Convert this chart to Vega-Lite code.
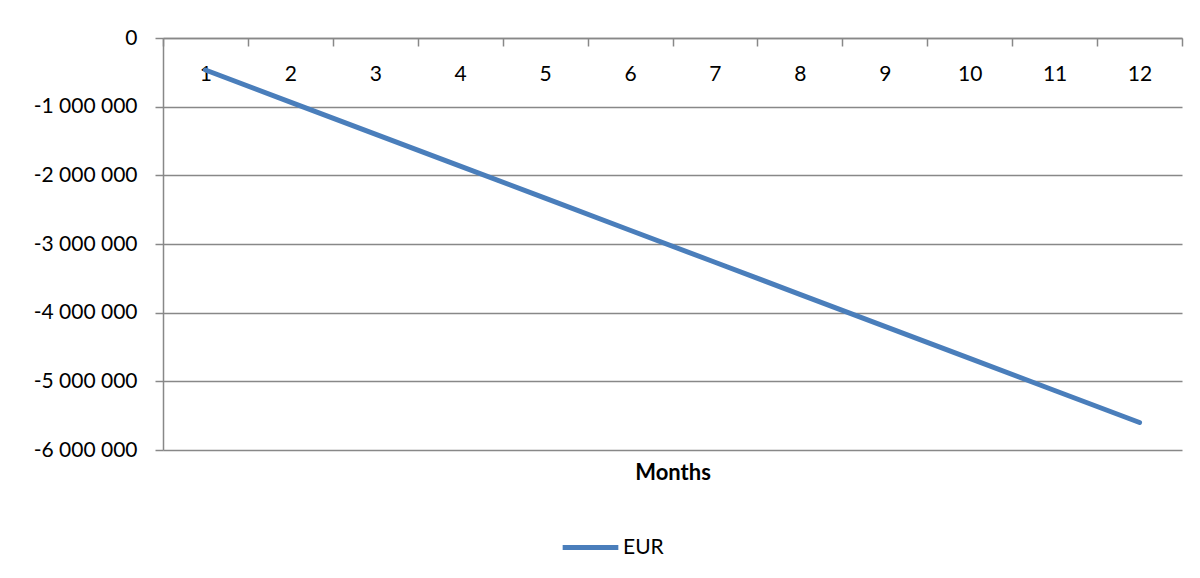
{
  "$schema": "https://vega.github.io/schema/vega-lite/v6.json",
  "width": 1019,
  "height": 412,
  "autosize": {"type": "none"},
  "padding": {"left": 163, "top": 38, "right": 18, "bottom": 128},
  "background": "white",
  "config": {
    "locale": {"number": {"decimal": ",", "thousands": " ", "grouping": [3], "currency": ["", ""], "minus": "-"}},
    "font": "Lato",
    "view": {"stroke": null},
    "axis": {
      "labelFont": "Lato", "labelFontSize": 21, "labelColor": "#000",
      "domainColor": "#888888", "tickColor": "#888888", "gridColor": "#888888",
      "domainWidth": 1.5, "tickWidth": 1.5, "gridWidth": 1.5, "gridOpacity": 1
    }
  },
  "data": {"values": [
    {"month": "1", "eur": -466000, "series": "EUR"},
    {"month": "2", "eur": -933000, "series": "EUR"},
    {"month": "3", "eur": -1400000, "series": "EUR"},
    {"month": "4", "eur": -1866000, "series": "EUR"},
    {"month": "5", "eur": -2333000, "series": "EUR"},
    {"month": "6", "eur": -2800000, "series": "EUR"},
    {"month": "7", "eur": -3266000, "series": "EUR"},
    {"month": "8", "eur": -3733000, "series": "EUR"},
    {"month": "9", "eur": -4200000, "series": "EUR"},
    {"month": "10", "eur": -4666000, "series": "EUR"},
    {"month": "11", "eur": -5133000, "series": "EUR"},
    {"month": "12", "eur": -5600000, "series": "EUR"}
  ]},
  "layer": [
    {
      "mark": {"type": "line", "strokeWidth": 5, "strokeCap": "round"},
      "encoding": {
        "x": {
          "field": "month", "type": "ordinal", "sort": null, "bandPosition": 0.5,
          "scale": {"type": "band", "paddingInner": 0, "paddingOuter": 0},
          "axis": {"orient": "top", "labelAngle": 0, "tickSize": -8, "labelPadding": -28, "labelBaseline": "middle", "title": null, "grid": false, "tickBand": "extent"}
        },
        "y": {
          "field": "eur", "type": "quantitative",
          "scale": {"domain": [-6000000, 0], "nice": false, "zero": false},
          "axis": {"values": [0, -1000000, -2000000, -3000000, -4000000, -5000000, -6000000], "format": ",d", "title": null, "grid": true, "tickSize": 8, "labelPadding": 18}
        },
        "color": {
          "field": "series", "type": "nominal",
          "scale": {"range": ["#4a7ebb"]},
          "legend": {"orient": "none", "legendX": 397, "legendY": 479, "title": null, "padding": 0,
            "symbolType": "stroke", "symbolStrokeWidth": 5, "symbolSize": 3100,
            "labelFontSize": 21, "labelFont": "Lato", "labelColor": "#000", "labelOffset": 2}
        }
      }
    },
    {
      "mark": {"type": "line", "opacity": 0},
      "encoding": {
        "x": {
          "field": "month", "type": "ordinal", "sort": null, "bandPosition": 0.5,
          "scale": {"type": "band", "paddingInner": 0, "paddingOuter": 0},
          "axis": {"orient": "bottom", "labels": false, "ticks": false, "domain": false, "grid": false, "title": "Months", "titleFontSize": 22, "titleFontWeight": "bold", "titleFont": "Lato", "titleColor": "#000", "titlePadding": 12}
        },
        "y": {"field": "eur", "type": "quantitative"}
      }
    }
  ],
  "resolve": {"axis": {"x": "independent"}}
}
